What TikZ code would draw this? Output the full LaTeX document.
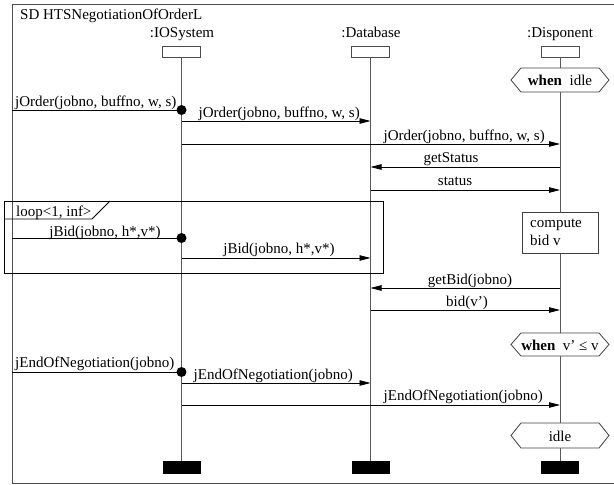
\documentclass[tikz,border=0pt]{standalone}
\usepackage{fontspec}
\setmainfont{Liberation Serif}
\usetikzlibrary{arrows.meta}

\tikzset{
  frameline/.style={draw=black!70, line width=0.9pt},
  lifeline/.style={draw=black!65, line width=1pt},
  headbox/.style={draw=black!70, line width=0.9pt, fill=white, minimum width=38pt, minimum height=11pt, inner sep=0pt},
  endbar/.style={fill=black, minimum width=38pt, minimum height=13pt, inner sep=0pt},
  msg/.style={draw=black, line width=0.8pt, -{Triangle[length=11pt,width=5.5pt]}},
  found/.style={draw=black, line width=0.8pt},
  dot/.style={circle, fill=black, minimum size=10pt, inner sep=0pt},
  lbl/.style={anchor=base, inner sep=0pt},
  lblw/.style={anchor=base west, inner sep=0pt},
  lble/.style={anchor=base east, inner sep=0pt},
  hexline/.style={draw=black!75, line width=0.8pt, fill=white},
}

\begin{document}
\begin{tikzpicture}[x=1pt, y=-1pt, font=\fontsize{15}{18}\selectfont]
\useasboundingbox (0,0) rectangle (614,485);

% diagram frame (right side runs past the page edge)
\draw[frameline] (620,4) -- (12,4) -- (12,483) -- (620,483);
\node[lblw] (title) at (20,19) {SD HTSNegotiationOfOrderL};

% lifeline heads and names
\node[lbl] (ioName) at (182,37) {:IOSystem};
\node[lbl] (dbName) at (371,37) {:Database};
\node[lbl] (dpName) at (560,37) {:Disponent};
\node[headbox] (ioH) at (181.5,51.5) {};
\node[headbox] (dbH) at (370.5,51.5) {};
\node[headbox] (dpH) at (560,51.5) {};

% lifeline ends
\node[endbar] (ioB) at (181.5,467.5) {};
\node[endbar] (dbB) at (370.5,467.5) {};
\node[endbar] (dpB) at (560,467.5) {};

% lifelines
\draw[lifeline] (ioH.south) -- (ioB.north);
\draw[lifeline] (dbH.south) -- (dbB.north);
\draw[lifeline] (dpH.south) -- (dpB.north);

% message end points
\coordinate (f1) at (12,110);   \coordinate (io1) at (181.5,110);
\coordinate (io2) at (181.5,121); \coordinate (db2) at (370.5,121);
\coordinate (io3) at (181.5,144); \coordinate (dp3) at (560,144);
\coordinate (dp4) at (560,167);   \coordinate (db4) at (370.5,167);
\coordinate (db5) at (370.5,190); \coordinate (dp5) at (560,190);
\coordinate (f6) at (12,238);   \coordinate (io6) at (181.5,238);
\coordinate (io7) at (181.5,258); \coordinate (db7) at (370.5,258);
\coordinate (dp8) at (560,288);   \coordinate (db8) at (370.5,288);
\coordinate (db9) at (370.5,310); \coordinate (dp9) at (560,310);
\coordinate (f10) at (12,372);  \coordinate (io10) at (181.5,372);
\coordinate (io11) at (181.5,383); \coordinate (db11) at (370.5,383);
\coordinate (io12) at (181.5,405); \coordinate (dp12) at (560,405);

% state invariant: when idle
\draw[hexline] (511,80) -- (521,68) -- (599,68) -- (609,80) -- (599,92) -- (521,92) -- cycle;
\node[lbl] (inv1) at (560,85) {\textbf{when}\ \ idle};

% order placement
\draw[found] (f1) -- (io1);
\node[dot] (d1) at (io1) {};
\node[lblw] (l1) at (15,106) {jOrder(jobno, buffno, w, s)};
\draw[msg] (io2) -- (db2);
\node[lble] (l2) at (360,117) {jOrder(jobno, buffno, w, s)};
\draw[msg] (io3) -- (dp3);
\node[lble] (l3) at (545,140) {jOrder(jobno, buffno, w, s)};
\draw[msg] (dp4) -- (db4);
\node[lbl] (l4) at (451,162) {getStatus};
\draw[msg] (db5) -- (dp5);
\node[lbl] (l5) at (455,185) {status};

% loop fragment
\draw[draw=black, line width=0.8pt] (4,201) rectangle (383,273);
\draw[draw=black, line width=0.8pt] (4,219) -- (92,219) -- (110,201);
\node[lblw] (loopTag) at (16,216) {loop<1, inf>};
\draw[found] (f6) -- (io6);
\node[dot] (d6) at (io6) {};
\node[lbl] (l6) at (105,236) {jBid(jobno, h*,v*)};
\draw[msg] (io7) -- (db7);
\node[lbl] (l7) at (279,253) {jBid(jobno, h*,v*)};

% local action on the Disponent
\draw[draw=black!75, line width=0.8pt, fill=white] (522,212) rectangle (598,253);
\node[lblw] (act1) at (530,227) {compute};
\node[lblw] (act2) at (530,245) {bid v};

% bidding
\draw[msg] (dp8) -- (db8);
\node[lbl] (l8) at (470,284) {getBid(jobno)};
\draw[msg] (db9) -- (dp9);
\node[lbl] (l9) at (467,306) {bid(v’)};

% state invariant: when v' <= v
\draw[hexline] (511,344.5) -- (521,333) -- (599,333) -- (609,344.5) -- (599,356) -- (521,356) -- cycle;
\node[lbl] (inv2) at (560,350) {\textbf{when}\ \ v’ ≤ v};

% end of negotiation
\draw[found] (f10) -- (io10);
\node[dot] (d10) at (io10) {};
\node[lblw] (l10) at (15,367) {jEndOfNegotiation(jobno)};
\draw[msg] (io11) -- (db11);
\node[lble] (l11) at (353,379) {jEndOfNegotiation(jobno)};
\draw[msg] (io12) -- (dp12);
\node[lble] (l12) at (543,400) {jEndOfNegotiation(jobno)};

% state invariant: idle
\draw[hexline] (511,435.5) -- (521,423) -- (599,423) -- (609,435.5) -- (599,448) -- (521,448) -- cycle;
\node[lbl] (inv3) at (560,441) {idle};
\end{tikzpicture}
\end{document}
